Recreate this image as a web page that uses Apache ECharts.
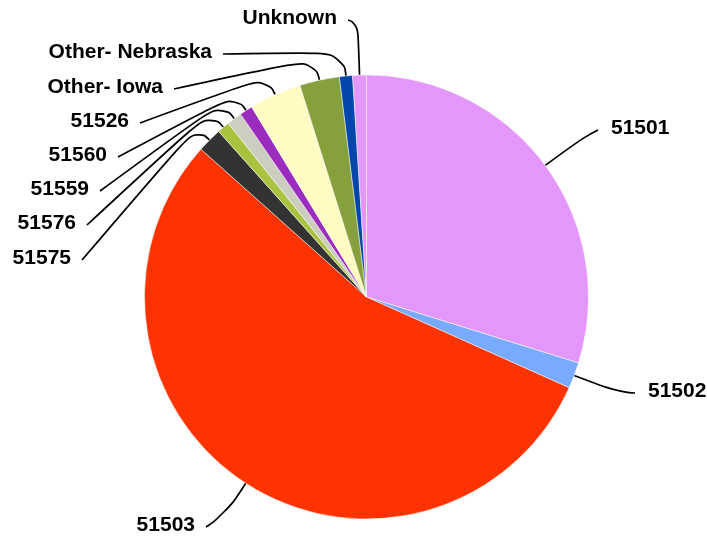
<!DOCTYPE html>
<html>
<head>
<meta charset="utf-8">
<script src="https://cdn.jsdelivr.net/npm/echarts@6/dist/echarts.min.js"></script>
<style>
  html, body { margin: 0; padding: 0; background: #fff; }
  #chartpie { width: 707px; height: 537px; }
</style>
</head>
<body>
<div id="chartpie"></div>
<script>
// data, clockwise from 12 o'clock (share in %)
var names = ["51501", "51502", "51503", "51575", "51576", "51559", "51560", "51526", "Other- Iowa", "Other- Nebraska", "Unknown"];
var values = [29.8, 1.9, 54.9, 1.8, 0.9, 1.1, 0.95, 3.8, 2.9, 0.95, 1.0];
var colors = ["#e497fa", "#78aaff", "#ff3300", "#333333", "#a9c23f", "#cdcdbf", "#9a2cbe", "#fffbc2", "#87a03e", "#0046ab", "#e497fa"];

// label anchor [x, y, align] and knee length of the leader line
var labelPos = [
  [611, 128, "left"], [648, 391, "left"], [195, 525, "right"],
  [71, 258, "right"], [76, 223, "right"], [89, 189, "right"], [107, 155, "right"],
  [129, 121, "right"], [163, 87, "right"], [212, 52, "right"], [337, 18, "right"]
];
var kneeLen = [48, 47, 37, 19, 21, 21, 19, 20, 22, 24, 52];

var cx = 366.5, cy = 297, r = 222;

var chart = echarts.init(document.getElementById('chartpie'));
chart.setOption({
  animation: false,
  backgroundColor: "#fff",
  series: [{
    type: "pie",
    center: [cx, cy],
    radius: r,
    startAngle: 90,
    clockwise: true,
    avoidLabelOverlap: false,
    color: colors,
    itemStyle: { borderColor: "#fff", borderWidth: 0.5 },
    label: {
      show: true,
      position: "outside",
      color: "#000",
      fontFamily: "Liberation Sans",
      fontWeight: "bold",
      fontSize: 21,
      formatter: "{b}"
    },
    labelLine: {
      show: true,
      length: 20,
      length2: 10,
      smooth: 0.6,
      lineStyle: { color: "#000", width: 1.7 }
    },
    labelLayout: function (params) {
      var i = params.dataIndex;
      var p = labelPos[i];
      var p0;
      if (params.labelLinePoints && params.labelLinePoints.length) {
        p0 = params.labelLinePoints[0];
      } else {
        var total = values.reduce(function (a, b) { return a + b; }, 0);
        var acc = 0;
        for (var k = 0; k < i; k++) acc += values[k];
        var ang = (acc + values[i] / 2) / total * Math.PI * 2;
        p0 = [cx + r * Math.sin(ang), cy - r * Math.cos(ang)];
      }
      var dx = p0[0] - cx, dy = p0[1] - cy;
      var d = Math.sqrt(dx * dx + dy * dy);
      var p1 = [p0[0] + dx / d * kneeLen[i], p0[1] + dy / d * kneeLen[i]];
      var p2 = p[2] === "left" ? [p[0] - 13, p[1] + 2] : [p[0] + 11, p[1] + 2];
      return {
        x: p[0],
        y: p[1],
        align: p[2],
        verticalAlign: "middle",
        labelLinePoints: [p0, p1, p2]
      };
    },
    data: names.map(function (n, i) { return { name: n, value: values[i] }; })
  }]
});
</script>
</body>
</html>
